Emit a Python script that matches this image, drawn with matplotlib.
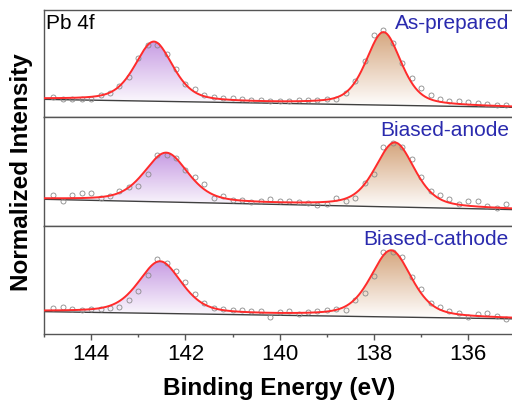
import numpy as np
import matplotlib
matplotlib.use("Agg")
import matplotlib.pyplot as plt
from matplotlib.colors import LinearSegmentedColormap

plt.rcParams['font.family'] = ['Liberation Sans', 'DejaVu Sans']

# energy grid of the measured points (eV)
energy = [144.8, 144.6, 144.4, 144.2, 144.0, 143.8, 143.6, 143.4, 143.2, 143.0,
          142.8, 142.6, 142.4, 142.2, 142.0, 141.8, 141.6, 141.4, 141.2, 141.0,
          140.8, 140.6, 140.4, 140.2, 140.0, 139.8, 139.6, 139.4, 139.2, 139.0,
          138.8, 138.6, 138.4, 138.2, 138.0, 137.8, 137.6, 137.4, 137.2, 137.0,
          136.8, 136.6, 136.4, 136.2, 136.0, 135.8, 135.6, 135.4, 135.2, 135.0]

labels = ["As-prepared", "Biased-anode", "Biased-cathode"]

# measured intensities (normalized)
asprep = [0.190, 0.165, 0.165, 0.165, 0.165, 0.206, 0.227, 0.290, 0.371, 0.554,
          0.673, 0.673, 0.589, 0.445, 0.308, 0.262, 0.206, 0.190, 0.175, 0.178,
          0.168, 0.159, 0.162, 0.153, 0.152, 0.152, 0.155, 0.159, 0.163, 0.165,
          0.168, 0.221, 0.336, 0.523, 0.763, 0.813, 0.688, 0.502, 0.361, 0.268,
          0.206, 0.168, 0.153, 0.150, 0.143, 0.134, 0.122, 0.112, 0.112, 0.105]
anode = [0.284, 0.229, 0.281, 0.300, 0.300, 0.254, 0.275, 0.321, 0.355, 0.367,
         0.477, 0.651, 0.651, 0.621, 0.514, 0.453, 0.382, 0.254, 0.275, 0.239,
         0.239, 0.223, 0.232, 0.245, 0.230, 0.232, 0.223, 0.208, 0.193, 0.202,
         0.254, 0.229, 0.254, 0.398, 0.477, 0.722, 0.765, 0.722, 0.612, 0.453,
         0.324, 0.284, 0.245, 0.202, 0.232, 0.232, 0.183, 0.162, 0.202, 0.208]
cathode = [0.238, 0.253, 0.228, 0.222, 0.228, 0.235, 0.238, 0.253, 0.315, 0.401,
           0.546, 0.691, 0.654, 0.586, 0.485, 0.370, 0.284, 0.238, 0.228, 0.222,
           0.220, 0.213, 0.216, 0.160, 0.207, 0.216, 0.185, 0.207, 0.216, 0.222,
           0.228, 0.222, 0.315, 0.383, 0.537, 0.756, 0.762, 0.710, 0.531, 0.414,
           0.284, 0.247, 0.216, 0.191, 0.154, 0.182, 0.198, 0.167, 0.136, 0.140]
spectra = [asprep, anode, cathode]

# fit parameters: Shirley-like linear background (value at 145 eV, at 135 eV)
bg_left = [0.165, 0.245, 0.207]
bg_right = [0.090, 0.150, 0.140]
# Pb 4f5/2 and 4f7/2 components: centre, amplitude, fwhm
c52 = [142.67, 142.41, 142.54]
a52 = [0.555, 0.450, 0.480]
w52 = [0.95, 1.10, 1.08]
c72 = [137.80, 137.56, 137.64]
a72 = [0.680, 0.590, 0.615]
w72 = [0.88, 0.99, 1.02]
eta = 0.45

purple = LinearSegmentedColormap.from_list("pu", ["#ffffff", "#c79de3"])
brown = LinearSegmentedColormap.from_list("br", ["#ffffff", "#d5a67e"])


def pvoigt(x, c, a, w):
    d = (x - c) / w
    return a * (eta / (1 + 4 * d**2) + (1 - eta) * np.exp(-4 * np.log(2) * d**2))


fig = plt.figure(figsize=(5.12, 4.05), dpi=100)
x = np.linspace(145, 135, 600)
W, H = 512, 405
tops = [10, 117, 226]
bots = [117, 226, 334]

for i in range(3):
    ax = fig.add_axes([44 / W, 1 - bots[i] / H, 471.5 / W, (bots[i] - tops[i]) / H])
    bg = bg_left[i] + (bg_right[i] - bg_left[i]) * (145 - x) / 10
    p1 = pvoigt(x, c52[i], a52[i], w52[i])
    p2 = pvoigt(x, c72[i], a72[i], w72[i])

    for p, cm in [(p1, purple), (p2, brown)]:
        poly = ax.fill_between(x, bg, bg + p, color='none', lw=0)
        top = (bg + p).max()
        grad = np.linspace(0, 1, 256).reshape(-1, 1)
        im = ax.imshow(grad, cmap=cm, origin='lower', aspect='auto',
                       extent=[145, 135, bg.min(), top], zorder=1)
        im.set_clip_path(poly.get_paths()[0], transform=ax.transData)

    ax.plot(x, bg, color='#404040', lw=1.0, zorder=2)
    ax.plot(energy, spectra[i], 'o', ms=3.6, mfc='none', mec='#8a8a8a', mew=0.6, zorder=3)
    ax.plot(x, bg + p1 + p2, color='#ff2b2b', lw=1.4, zorder=4)

    ax.set_xlim(145, 135)
    ax.set_ylim(0, 1)
    ax.set_yticks([])
    for s in ax.spines.values():
        s.set_color('#555555')
        s.set_linewidth(1.0)
    ax.text(0.986, 0.965, labels[i], transform=ax.transAxes, ha='right', va='top',
            color='#2a2aae', fontsize=15)
    if i == 0:
        ax.text(0.004, 0.965, "Pb 4f", transform=ax.transAxes, ha='left', va='top',
                color='black', fontsize=15)
    if i < 2:
        ax.set_xticks([])
    else:
        ax.set_xticks([144, 142, 140, 138, 136])
        ax.set_xticks([145, 143, 141, 139, 137, 135], minor=True)
        ax.tick_params(axis='x', which='major', length=4, width=1, color='#555555',
                       labelsize=16, pad=3)
        ax.tick_params(axis='x', which='minor', length=2.5, width=1, color='#555555')

fig.text(22 / W, 1 - 172 / H, "Normalized Intensity", rotation=90, ha='center',
         va='center', fontsize=17.5, fontweight='bold')
fig.text(279.5 / W, 1 - 389 / H, "Binding Energy (eV)", ha='center', va='center',
         fontsize=17.5, fontweight='bold')

fig.savefig("out.png", dpi=100)
